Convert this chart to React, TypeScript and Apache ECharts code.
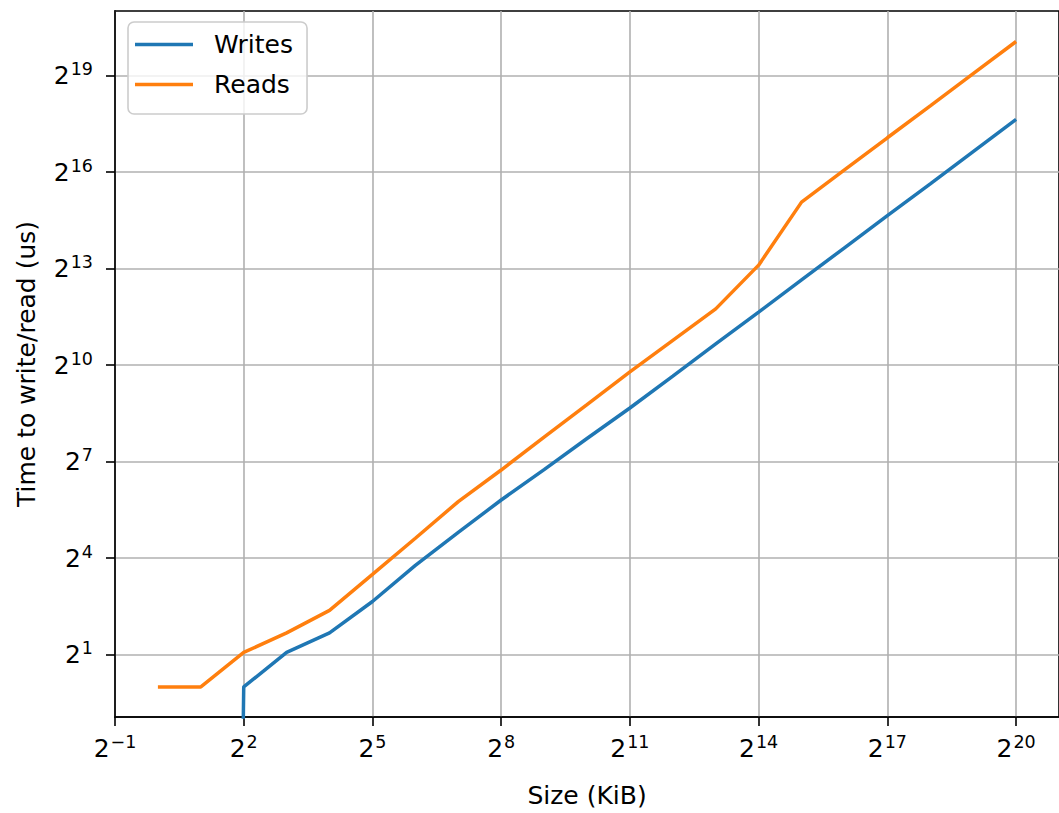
import React, { useEffect, useRef } from "react";
import * as echarts from "echarts";

// Sizes in KiB (powers of two)
const sizes = [
  1, 2, 4, 8, 16, 32, 64, 128, 256, 512, 1024, 2048, 4096, 8192, 16384, 32768,
  65536, 131072, 262144, 524288, 1048576,
];
// Time to write (us); 0 values are clipped below the log axis like matplotlib does
const writes = [
  0, 0, 1, 2.1, 3.2, 6.3, 13.7, 27.9, 56.1, 108, 211, 407, 809, 1618, 3213,
  6426, 12850, 25700, 51000, 102100, 204200,
];
// Time to read (us)
const reads = [
  1, 1, 2.1, 3.2, 5.2, 11.3, 24.6, 54.2, 107, 217, 437, 885, 1746, 3444, 8840,
  34380, 68760, 137500, 273400, 546800, 1094000,
];
const xTickExponents = [-1, 2, 5, 8, 11, 14, 17, 20];
const yTickExponents = [1, 4, 7, 10, 13, 16, 19];
const seriesNames = ["Writes", "Reads"];
const seriesColors = ["#1f77b4", "#ff7f0e"];

const FONT = "DejaVu Sans";
const FS = 25;
const LOG_FLOOR = 1e-30;

const supLabel = (v: number) => {
  const e = Math.round(Math.log2(v));
  const s = e < 0 ? "\u2212" + -e : String(e);
  return `{b|2}{s|${s}}`;
};

const rich = {
  b: {
    fontFamily: FONT,
    fontSize: FS,
    lineHeight: FS,
    color: "#000",
  },
  s: {
    fontFamily: FONT,
    fontSize: 17.5,
    lineHeight: 17.5,
    color: "#000",
    padding: [0, 0, 13, 1],
  },
};

export default function App() {
  const ref = useRef<HTMLDivElement>(null);

  useEffect(() => {
    if (!ref.current) return;
    const chart = echarts.init(ref.current, undefined, { renderer: "svg" });
    const xTicks = xTickExponents.map((e) => Math.pow(2, e));
    const yTicks = yTickExponents.map((e) => Math.pow(2, e));
    const toLog = (v: number) => (v > 0 ? v : LOG_FLOOR);

    const axisCommon = {
      type: "log",
      logBase: 2,
      axisLine: { show: true, onZero: false, lineStyle: { color: "#000", width: 1.6 } },
      splitLine: { show: true, lineStyle: { color: "#b0b0b0", width: 1.6 } },
      minorTick: { show: false },
      minorSplitLine: { show: false },
      nameTextStyle: { fontFamily: FONT, fontSize: FS, color: "#000", lineHeight: FS },
      nameLocation: "middle",
    };

    chart.setOption({
      animation: false,
      backgroundColor: "#fff",
      textStyle: { fontFamily: FONT },
      grid: {
        left: 115,
        top: 11,
        width: 952,
        height: 708.5,
        show: true,
        borderColor: "#000",
        borderWidth: 1.6,
        backgroundColor: "transparent",
        containLabel: false,
      },
      legend: {
        orient: "vertical",
        left: 128,
        top: 22,
        padding: [10, 14, 17, 7],
        icon: "rect",
        itemWidth: 58,
        itemHeight: 3.5,
        itemGap: 15,
        backgroundColor: "rgba(255,255,255,0.8)",
        borderColor: "#cccccc",
        borderWidth: 1.6,
        borderRadius: 6,
        textStyle: {
          fontFamily: FONT,
          fontSize: FS,
          color: "#000",
          lineHeight: FS,
          padding: [0, 0, 0, 16],
        },
        data: seriesNames,
      },
      xAxis: {
        ...axisCommon,
        min: Math.pow(2, -1),
        max: Math.pow(2, 21),
        name: "Size (KiB)",
        nameGap: 66,
        axisTick: {
          show: true,
          length: 9,
          lineStyle: { color: "#000", width: 1.6 },
          customValues: xTicks,
        },
        axisLabel: {
          customValues: xTicks,
          formatter: supLabel,
          rich,
          margin: 19,
        },
      },
      yAxis: {
        ...axisCommon,
        min: Math.pow(2, -0.936),
        max: Math.pow(2, 21.01),
        name: "Time to write/read (us)",
        nameGap: 76,
        axisTick: {
          show: true,
          length: 9,
          lineStyle: { color: "#000", width: 1.6 },
          customValues: yTicks,
        },
        axisLabel: {
          customValues: yTicks,
          formatter: supLabel,
          rich,
          margin: 22,
        },
      },
      series: [
        {
          name: seriesNames[0],
          type: "line",
          data: sizes.map((s, i) => [s, toLog(writes[i])]),
          symbol: "none",
          showSymbol: false,
          clip: true,
          lineStyle: { color: seriesColors[0], width: 3.5 },
          itemStyle: { color: seriesColors[0] },
        },
        {
          name: seriesNames[1],
          type: "line",
          data: sizes.map((s, i) => [s, toLog(reads[i])]),
          symbol: "none",
          showSymbol: false,
          clip: true,
          lineStyle: { color: seriesColors[1], width: 3.5 },
          itemStyle: { color: seriesColors[1] },
        },
      ],
    });
    return () => chart.dispose();
  }, []);

  return (
    <div
      ref={ref}
      style={{ position: "fixed", left: 0, top: 0, width: 1059, height: 813 }}
    />
  );
}
